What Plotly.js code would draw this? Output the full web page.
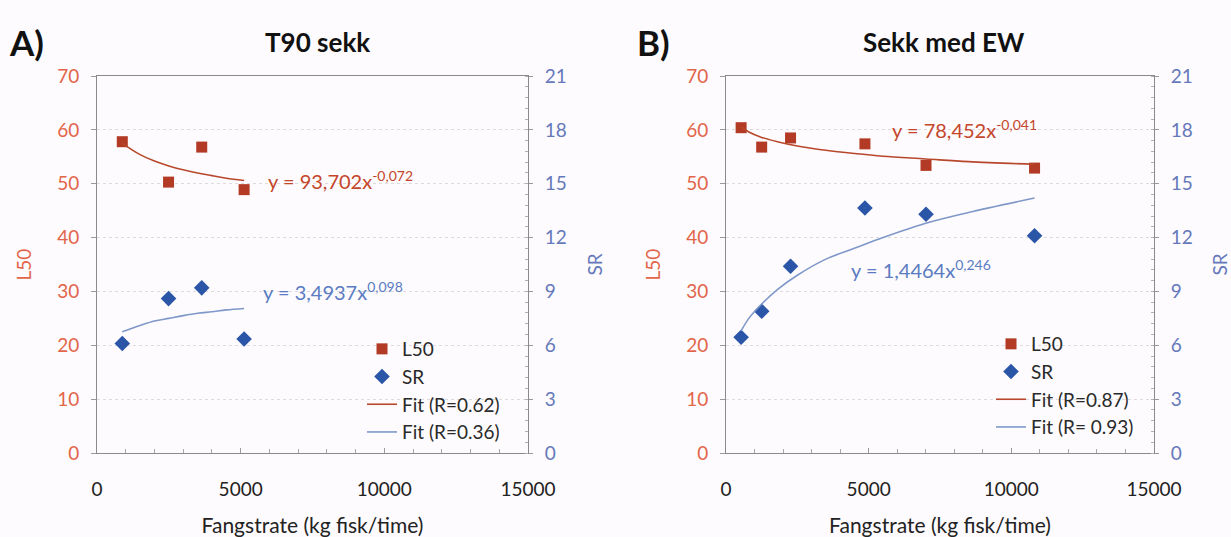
<!DOCTYPE html>
<html>
<head>
<meta charset="utf-8">
<script src="https://cdn.plot.ly/plotly-3.0.1.min.js"></script>
<style>
html,body{margin:0;padding:0;background:#fdfbfd;}
#chart{width:1231px;height:537px;}
</style>
</head>
<body>
<div id="chart"></div>
<script>
// Panel A: T90 sekk
const catchA = [880, 2490, 3645, 5120];
const l50A = [57.8, 50.3, 56.8, 48.9];
const srA = [6.1, 8.6, 9.2, 6.35];
const fitAx = [880, 1500, 2000, 2500, 3000, 3500, 4000, 4500, 5120];
const fitAl50 = [57.5, 55.4, 54.2, 53.3, 52.6, 52.0, 51.5, 51.0, 50.6];
const fitAsr = [6.75, 7.1, 7.35, 7.5, 7.65, 7.78, 7.87, 7.97, 8.05];

// Panel B: Sekk med EW
const catchB = [530, 1250, 2262, 4869, 7010, 10814];
const l50B = [60.4, 56.8, 58.5, 57.4, 53.4, 52.9];
const srB = [6.45, 7.9, 10.4, 13.65, 13.3, 12.1];
const fitBx = [530, 800, 1250, 1800, 2500, 3500, 4500, 5500, 7000, 8500, 10814];
const fitBl50 = [60.6, 59.6, 58.6, 57.8, 57.0, 56.2, 55.6, 55.1, 54.6, 54.1, 53.6];
const fitBsr = [6.8, 7.5, 8.3, 9.1, 9.9, 10.8, 11.4, 12.0, 12.8, 13.4, 14.2];

const legendA = ['L50', 'SR', 'Fit (R=0.62)', 'Fit (R=0.36)'];
const legendB = ['L50', 'SR', 'Fit (R=0.87)', 'Fit (R= 0.93)'];
const panelTitles = ['T90 sekk', 'Sekk med EW'];
const panelLetters = ['A)', 'B)'];
const eqA = ['y = 93,702x<sup>-0,072</sup>', 'y = 3,4937x<sup>0,098</sup>'];
const eqB = ['y = 78,452x<sup>-0,041</sup>', 'y = 1,4464x<sup>0,246</sup>'];
const xTitle = 'Fangstrate (kg fisk/time)';

const FONT = 'Lato, "Open Sans", sans-serif';
const RED_M = '#b33a24', RED_L = '#b8482c', RED_T = '#e2654a', RED_EQ = '#c4462b';
const BLUE_M = '#2b56a8', BLUE_L = '#7f98c9', BLUE_T = '#6578ba', BLUE_EQ = '#5b7cc2';

function panel(xa, ya, ya2, lg, cx, l50, sr, fx, fl, fs, names) {
  return [
    {x: cx, y: l50, xaxis: xa, yaxis: ya, type: 'scatter', mode: 'markers', name: names[0], legend: lg, legendgroup: lg+'a',
     marker: {symbol: 'square', size: 11, color: RED_M}},
    {x: cx, y: sr, xaxis: xa, yaxis: ya2, type: 'scatter', mode: 'markers', name: names[1], legend: lg, legendgroup: lg+'b',
     marker: {symbol: 'diamond', size: 12, color: BLUE_M}},
    {x: fx, y: fl, xaxis: xa, yaxis: ya, type: 'scatter', mode: 'lines', name: names[2], legend: lg, legendgroup: lg+'c',
     line: {color: RED_L, width: 1.6, shape: 'spline'}},
    {x: fx, y: fs, xaxis: xa, yaxis: ya2, type: 'scatter', mode: 'lines', name: names[3], legend: lg, legendgroup: lg+'d',
     line: {color: BLUE_L, width: 1.6, shape: 'spline'}}
  ];
}

const data = [].concat(
  panel('x', 'y', 'y2', 'legend', catchA, l50A, srA, fitAx, fitAl50, fitAsr, legendA),
  panel('x2', 'y3', 'y4', 'legend2', catchB, l50B, srB, fitBx, fitBl50, fitBsr, legendB)
);

const W = 1231, H = 537;
const px = v => v / W, py = v => 1 - v / H;

function xax(dom, anchor) {
  return {domain: dom, anchor: anchor, range: [0, 15000], dtick: 5000, tick0: 0, tickformat: 'd',
    showline: true, linecolor: '#8a8a8a', linewidth: 1, mirror: true,
    ticks: 'inside', ticklen: 5, tickcolor: '#9a9a9a', showgrid: false, zeroline: false,
    minor: {dtick: 1000, ticks: 'inside', ticklen: 4, tickcolor: '#a8a8a8'},
    tickfont: {family: FONT, size: 19, color: '#222'}, ticklabelstandoff: 19,
    title: {text: xTitle, font: {family: FONT, size: 21, color: '#222'}, standoff: 24}};
}
function yl(anchor) {
  return {domain: [py(453), py(76)], anchor: anchor, range: [0, 70], dtick: 10,
    showline: true, linecolor: '#8a8a8a', linewidth: 1,
    ticks: 'outside', ticklen: 5, tickcolor: '#9a9a9a',
    showgrid: true, gridcolor: '#dedbdf', griddash: 'dot', gridwidth: 1, zeroline: false,
    tickfont: {family: FONT, size: 19, color: RED_T}, ticklabelstandoff: 8,
    title: {text: 'L50', font: {family: FONT, size: 19, color: RED_T}, standoff: 20}};
}
function yr(anchor, over) {
  return {overlaying: over, anchor: anchor, side: 'right', range: [0, 21], dtick: 3,
    showline: true, linecolor: '#8a8a8a', linewidth: 1,
    ticks: 'outside', ticklen: 4, tickcolor: '#9a9a9a', showgrid: false, zeroline: false,
    minor: {dtick: 0.6, ticks: 'inside', ticklen: 3, tickcolor: '#b0b0b0'},
    tickfont: {family: FONT, size: 19, color: BLUE_T}, ticklabelstandoff: 8,
    title: {text: 'SR', font: {family: FONT, size: 19, color: BLUE_T}, standoff: 22}};
}

function leg(xpx, ypx) {
  return {x: px(xpx), y: py(ypx), xanchor: 'left', yanchor: 'top', bgcolor: 'rgba(0,0,0,0)',
    borderwidth: 0, font: {family: FONT, size: 19, color: '#2a2a2a'}, traceorder: 'grouped',
    tracegroupgap: 0, itemwidth: 30};
}

function ann(text, xpx, ypx, opts) {
  return Object.assign({text: text, x: px(xpx), y: py(ypx), xref: 'paper', yref: 'paper', showarrow: false,
    xanchor: 'left', yanchor: 'middle'}, opts);
}

const annotations = [
  ann('<b>' + panelLetters[0] + '</b>', 7, 42, {font: {family: FONT, size: 35, color: '#111'}}),
  ann('<b>' + panelLetters[1] + '</b>', 635, 42, {font: {family: FONT, size: 35, color: '#111'}}),
  ann('<b>' + panelTitles[0] + '</b>', 317, 42, {xanchor: 'center', font: {family: FONT, size: 26, color: '#111'}}),
  ann('<b>' + panelTitles[1] + '</b>', 944, 42, {xanchor: 'center', font: {family: FONT, size: 26, color: '#111'}}),
  ann(eqA[0], 266, 180, {font: {family: FONT, size: 20, color: RED_EQ}}),
  ann(eqA[1], 261, 291, {font: {family: FONT, size: 20, color: BLUE_EQ}}),
  ann(eqB[0], 890, 129, {font: {family: FONT, size: 20, color: RED_EQ}}),
  ann(eqB[1], 849, 269, {font: {family: FONT, size: 20, color: BLUE_EQ}})
];

const layout = {
  width: W, height: H,
  margin: {l: 0, r: 0, t: 0, b: 0},
  paper_bgcolor: '#fdfbfd', plot_bgcolor: '#fdfbfd',
  font: {family: FONT},
  xaxis: xax([px(97), px(528)], 'y'),
  xaxis2: xax([px(726), px(1154)], 'y3'),
  yaxis: yl('x'),
  yaxis2: yr('x', 'y'),
  yaxis3: yl('x2'),
  yaxis4: yr('x2', 'y3'),
  legend: leg(362, 330),
  legend2: leg(991, 325),
  annotations: annotations
};

Plotly.newPlot('chart', data, layout, {displayModeBar: false, staticPlot: true});
</script>
</body>
</html>
